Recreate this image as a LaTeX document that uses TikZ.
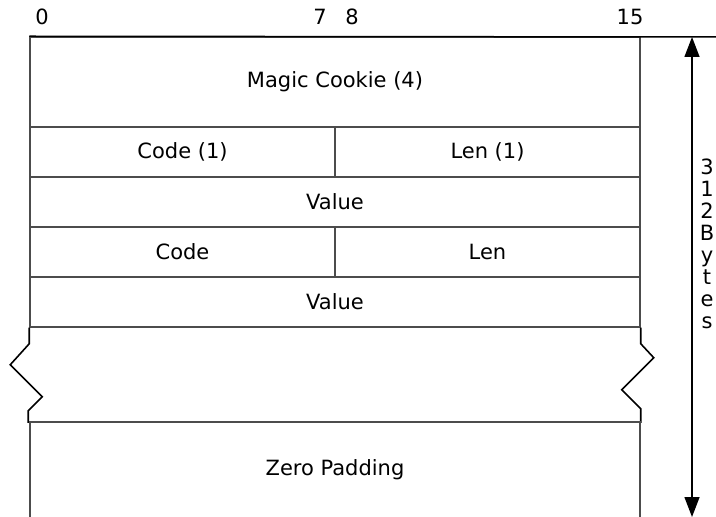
\documentclass[tikz,border=0pt]{standalone}
\usepackage{fontspec}
\setmainfont{DejaVu Sans}
\usetikzlibrary{arrows.meta, positioning}

\begin{document}
\begin{tikzpicture}[
				x=0.5pt, y=-0.5pt,
				>={Triangle[length=10pt, width=7.5pt]},
				cell/.style={draw=black!70, line width=0.75pt, minimum width=305pt, minimum height=25pt, inner sep=0pt, font=\fontsize{10.5}{12}\selectfont},
				halfcell/.style={cell, minimum width=152.5pt},
				bitnum/.style={font=\fontsize{10.5}{12}\selectfont, inner sep=0pt},
				zig/.style={line width=0.8pt, black, line join=miter},
				dim/.style={<->, line width=0.7pt}
				]
				\useasboundingbox (0,0) rectangle (716,517);
				
				% Numeros de bit
				\node[bitnum] (b0)  at (42,17)  {0};
				\node[bitnum] (b7)  at (320,17) {7};
				\node[bitnum] (b8)  at (352,17) {8};
				\node[bitnum] (b15) at (630,17) {15};
				
				% Campos
				\node[cell, minimum height=45pt] (magic) at (335,82) {Magic Cookie (4)};
				\node[halfcell] (code1) at (182.5,152) {Code (1)};
				\node[halfcell] (len1)  at (487.5,152) {Len (1)};
				\node[cell] (value1) at (335,202) {Value};
				\node[halfcell] (code2) at (182.5,252) {Code};
				\node[halfcell] (len2)  at (487.5,252) {Len};
				\node[cell] (value2) at (335,302) {Value};
				
				% Linea superior
				\coordinate (edge) at (716,37);
				\draw[line width=0.75pt] (magic.north west) -- (edge);
				
				% Corte
				\draw[zig] (value2.south west) -- ++(0,16) -- ++(-19,21) -- ++(32,32) -- ++(-14,14) -- ++(0,12);
				\draw[zig] (value2.south east) -- ++(0,16) -- ++(13,14) -- ++(-32,32) -- ++(19,19) -- ++(0,14);
				
				% Relleno
				\coordinate (padnw) at (30,422);
				\coordinate (padne) at (640,422);
				\draw[draw=black!70, line width=0.75pt] (30,530) -- (padnw) -- (padne) -- (640,530);
				\node[bitnum] (pad) at (335,470) {Zero Padding};
				
				% Tamano
				\coordinate (top) at (692,37);
				\coordinate (bot) at (692,517);
				\draw[dim] (top) -- (bot);
				\node[bitnum, align=center, font=\fontsize{10.5}{11.05}\selectfont] (size) at (707,244) {3\\1\\2\\B\\y\\t\\e\\s};
				
			\end{tikzpicture}
\end{document}
